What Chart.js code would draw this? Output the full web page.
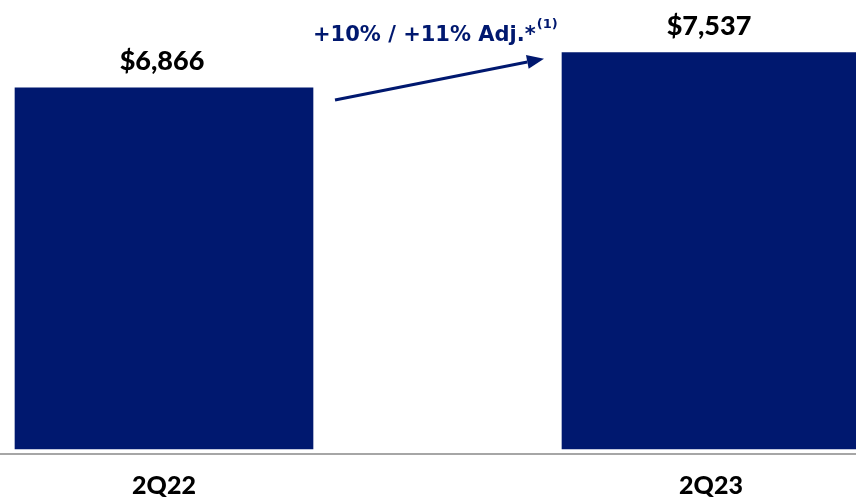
<!DOCTYPE html>
<html>
<head>
<meta charset="utf-8">
<script src="https://cdn.jsdelivr.net/npm/chart.js@4.4.1/dist/chart.umd.min.js"></script>
<style>
  html, body { margin: 0; padding: 0; background: #ffffff; }
  #wrap { width: 856px; height: 500px; }
</style>
</head>
<body>
<div id="wrap"><canvas id="chart" width="856" height="500"></canvas></div>
<script>
// Quarterly revenue ($ millions)
const quarters = ['2Q22', '2Q23'];
const revenue = [6866, 7537];
const valueLabels = ['$6,866', '$7,537'];
const growthText = '+10% / +11% Adj.*';
const growthNote = '(1)';

const NAVY = '#00186f';
const FONT = 'Lato, "Open Sans", "DejaVu Sans", sans-serif';
const CAPTION_FONT = '"DejaVu Sans", Lato, sans-serif';

// Writes each bar's dollar value above it
const valueLabelPlugin = {
  id: 'valueLabels',
  afterDatasetsDraw(chart) {
    const ctx = chart.ctx;
    const bars = chart.getDatasetMeta(0).data;
    ctx.save();
    ctx.font = '900 27px ' + FONT;
    ctx.fillStyle = '#000000';
    ctx.textAlign = 'center';
    ctx.textBaseline = 'alphabetic';
    bars.forEach((bar, i) => {
      ctx.fillText(valueLabels[i], bar.x - 2, bar.y - 18);
    });
    ctx.restore();
  }
};

// Baseline rule running across the full width under the bars
const baselinePlugin = {
  id: 'baseline',
  afterDatasetsDraw(chart) {
    const ctx = chart.ctx;
    const y = chart.scales.y.getPixelForValue(0) + 5;
    ctx.save();
    ctx.strokeStyle = '#a6a6a6';
    ctx.lineWidth = 2;
    ctx.beginPath();
    ctx.moveTo(0, y);
    ctx.lineTo(chart.width, y);
    ctx.stroke();
    ctx.restore();
  }
};

// Growth arrow between the two bars, with its caption
const growthArrowPlugin = {
  id: 'growthArrow',
  afterDatasetsDraw(chart) {
    const ctx = chart.ctx;
    const bars = chart.getDatasetMeta(0).data;
    const b0 = bars[0], b1 = bars[1];
    const x0 = b0.x + b0.width / 2 + 22;
    const y0 = b0.y + 12;
    const x1 = b1.x - b1.width / 2 - 18;
    const y1 = b1.y + 6;
    const ang = Math.atan2(y1 - y0, x1 - x0);
    const head = 17, halfW = 7;

    ctx.save();
    ctx.strokeStyle = NAVY;
    ctx.fillStyle = NAVY;
    ctx.lineWidth = 3;
    ctx.beginPath();
    ctx.moveTo(x0, y0);
    ctx.lineTo(x1 - head * Math.cos(ang), y1 - head * Math.sin(ang));
    ctx.stroke();
    ctx.beginPath();
    ctx.moveTo(x1, y1);
    ctx.lineTo(x1 - head * Math.cos(ang) + halfW * Math.sin(ang),
               y1 - head * Math.sin(ang) - halfW * Math.cos(ang));
    ctx.lineTo(x1 - head * Math.cos(ang) - halfW * Math.sin(ang),
               y1 - head * Math.sin(ang) + halfW * Math.cos(ang));
    ctx.closePath();
    ctx.fill();

    // caption
    const tx = b0.x + b0.width / 2;
    const ty = 41;
    ctx.textAlign = 'left';
    ctx.textBaseline = 'alphabetic';
    ctx.font = 'bold 21px ' + CAPTION_FONT;
    ctx.fillText(growthText, tx, ty);
    const w = ctx.measureText(growthText).width;
    ctx.font = 'bold 13px ' + CAPTION_FONT;
    ctx.fillText(growthNote, tx + w + 1, ty - 13);
    ctx.restore();
  }
};

new Chart(document.getElementById('chart'), {
  type: 'bar',
  data: {
    labels: quarters,
    datasets: [{
      data: revenue,
      backgroundColor: NAVY,
      borderWidth: 0,
      barThickness: 298,
      clip: false
    }]
  },
  options: {
    responsive: false,
    animation: false,
    events: [],
    layout: { padding: { left: 164, right: 145, top: 2, bottom: 0 } },
    plugins: {
      legend: { display: false },
      tooltip: { enabled: false },
      title: { display: false }
    },
    scales: {
      x: {
        type: 'category',
        offset: false,
        grid: { display: false, drawTicks: false },
        border: { display: false },
        afterFit(scale) { scale.height = 51; },
        ticks: {
          color: '#000000',
          font: { family: FONT, size: 25, weight: '900' },
          padding: 22,
          maxRotation: 0,
          autoSkip: false
        }
      },
      y: {
        display: false,
        min: 0,
        max: 8500
      }
    }
  },
  plugins: [valueLabelPlugin, baselinePlugin, growthArrowPlugin]
});
</script>
</body>
</html>
